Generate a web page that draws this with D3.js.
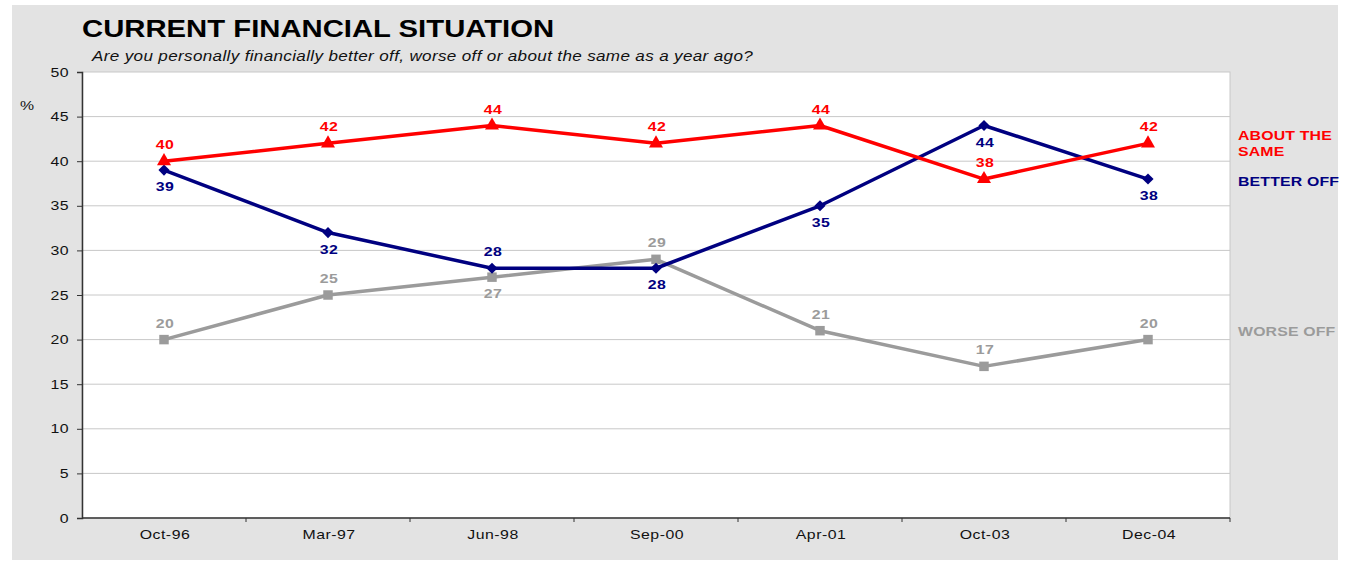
<!DOCTYPE html>
<html>
<head>
<meta charset="utf-8">
<script src="https://cdn.jsdelivr.net/npm/d3@7"></script>
<style>
  html, body { margin: 0; padding: 0; background: #ffffff; }
  svg { display: block; font-family: "Liberation Sans", Arial, sans-serif; }
  svg text { letter-spacing: 0.03em; }
</style>
</head>
<body>
<svg id="chart" width="1349" height="561"></svg>
<script>
// Survey waves
const categories = ["Oct-96", "Mar-97", "Jun-98", "Sep-00", "Apr-01", "Oct-03", "Dec-04"];

// Percentages per answer
const aboutSame = [40, 42, 44, 42, 44, 38, 42];
const betterOff = [39, 32, 28, 28, 35, 44, 38];
const worseOff  = [20, 25, 27, 29, 21, 17, 20];

// Label placement per point: -1 above, 1 below
const aboutSamePos = [-1, -1, -1, -1, -1, -1, -1];
const betterOffPos = [1, 1, -1, 1, 1, 1, 1];
const worseOffPos  = [-1, -1, 1, -1, -1, -1, -1];

const yTicks = [0, 5, 10, 15, 20, 25, 30, 35, 40, 45, 50];

// Text is set in a horizontally widened face
const WIDE = 1.22;
const at = (px, py) => `translate(${px},${py}) scale(${WIDE},1)`;

const svg = d3.select("#chart");

// Panel background
svg.append("rect")
  .attr("x", 12).attr("y", 5)
  .attr("width", 1326).attr("height", 555)
  .attr("fill", "#e3e3e3");

const plot = { left: 82, right: 1230, top: 72, bottom: 518 };

// Plot area
svg.append("rect")
  .attr("x", plot.left).attr("y", plot.top)
  .attr("width", plot.right - plot.left).attr("height", plot.bottom - plot.top)
  .attr("fill", "#ffffff")
  .attr("stroke", "#c8c8c8").attr("stroke-width", 1);

const x = d3.scalePoint().domain(categories).range([plot.left, plot.right]).padding(0.5);
const xBand = d3.scaleBand().domain(categories).range([plot.left, plot.right]);
const y = d3.scaleLinear().domain([0, 50]).range([plot.bottom, plot.top]);

// Horizontal gridlines
svg.append("g")
  .selectAll("line")
  .data(yTicks.filter(t => t > 0 && t < 50))
  .join("line")
  .attr("x1", plot.left).attr("x2", plot.right)
  .attr("y1", d => y(d)).attr("y2", d => y(d))
  .attr("stroke", "#c8c8c8").attr("stroke-width", 1);

// Y axis: line and ticks from d3, labels drawn widened
const yAxis = svg.append("g")
  .attr("transform", `translate(${plot.left},0)`)
  .call(d3.axisLeft(y).tickValues(yTicks).tickSize(5).tickFormat(""));
yAxis.select(".domain").attr("stroke", "#333").attr("stroke-width", 1.5);
yAxis.selectAll(".tick line").attr("stroke", "#333");
svg.append("g")
  .selectAll("text")
  .data(yTicks)
  .join("text")
  .attr("transform", d => at(plot.left - 13, y(d) + 4.5))
  .attr("text-anchor", "end")
  .attr("font-size", 13).attr("fill", "#111")
  .text(d => d);

// X axis with ticks on category boundaries
const xAxisG = svg.append("g")
  .attr("transform", `translate(0,${plot.bottom})`);
xAxisG.append("line")
  .attr("x1", plot.left).attr("x2", plot.right)
  .attr("y1", 0).attr("y2", 0)
  .attr("stroke", "#333").attr("stroke-width", 1.5);
xAxisG.selectAll("line.tick")
  .data(categories)
  .join("line")
  .attr("class", "tick")
  .attr("x1", d => xBand(d) + xBand.bandwidth()).attr("x2", d => xBand(d) + xBand.bandwidth())
  .attr("y1", 0).attr("y2", 4)
  .attr("stroke", "#333");
xAxisG.selectAll("text")
  .data(categories)
  .join("text")
  .attr("transform", d => at(x(d) + 1, 21))
  .attr("text-anchor", "middle")
  .attr("font-size", 13).attr("fill", "#111")
  .text(d => d);

// Title and question
svg.append("text")
  .attr("transform", at(82, 37))
  .attr("font-size", 24).attr("font-weight", "bold").attr("fill", "#000")
  .style("letter-spacing", "0")
  .text("CURRENT FINANCIAL SITUATION");
svg.append("text")
  .attr("transform", at(92, 61))
  .attr("font-size", 14).attr("font-style", "italic").attr("fill", "#111")
  .style("letter-spacing", "0.02em")
  .text("Are you personally financially better off, worse off or about the same as a year ago?");

svg.append("text")
  .attr("transform", at(20, 110))
  .attr("font-size", 13).attr("fill", "#111")
  .text("%");

const series = [
  { values: worseOff, pos: worseOffPos, color: "#9b9b9b", symbol: d3.symbolSquare, size: 90, rot: 0 },
  { values: betterOff, pos: betterOffPos, color: "#000080", symbol: d3.symbolSquare, size: 62, rot: 45 },
  { values: aboutSame, pos: aboutSamePos, color: "#ff0000", symbol: d3.symbolTriangle, size: 85, rot: 0 }
];

const line = d3.line()
  .x((d, i) => x(categories[i]))
  .y(d => y(d));

series.forEach(s => {
  const g = svg.append("g");
  g.append("path")
    .datum(s.values)
    .attr("d", line)
    .attr("fill", "none")
    .attr("stroke", s.color)
    .attr("stroke-width", 3.5)
    .attr("stroke-linejoin", "round");
  g.selectAll("path.marker")
    .data(s.values)
    .join("path")
    .attr("class", "marker")
    .attr("transform", (d, i) => `translate(${x(categories[i])},${y(d)}) rotate(${s.rot})`)
    .attr("d", d3.symbol().type(s.symbol).size(s.size))
    .attr("fill", s.color);
  g.selectAll("text")
    .data(s.values)
    .join("text")
    .attr("transform", (d, i) => at(x(categories[i]) + 1, y(d) + (s.pos[i] < 0 ? -12 : 21)))
    .attr("text-anchor", "middle")
    .attr("font-size", 13).attr("font-weight", "bold")
    .attr("fill", s.color)
    .text(d => d);
});

// Series names on the right
const legend = [
  { lines: ["ABOUT THE", "SAME"], color: "#ff0000", y: 140 },
  { lines: ["BETTER OFF"], color: "#000080", y: 186 },
  { lines: ["WORSE OFF"], color: "#9b9b9b", y: 336 }
];
legend.forEach(l => {
  l.lines.forEach((t, k) => {
    svg.append("text")
      .attr("transform", at(1238, l.y + k * 16))
      .attr("font-size", 13).attr("font-weight", "bold")
      .attr("fill", l.color)
      .style("letter-spacing", "0.01em")
      .text(t);
  });
});
</script>
</body>
</html>
